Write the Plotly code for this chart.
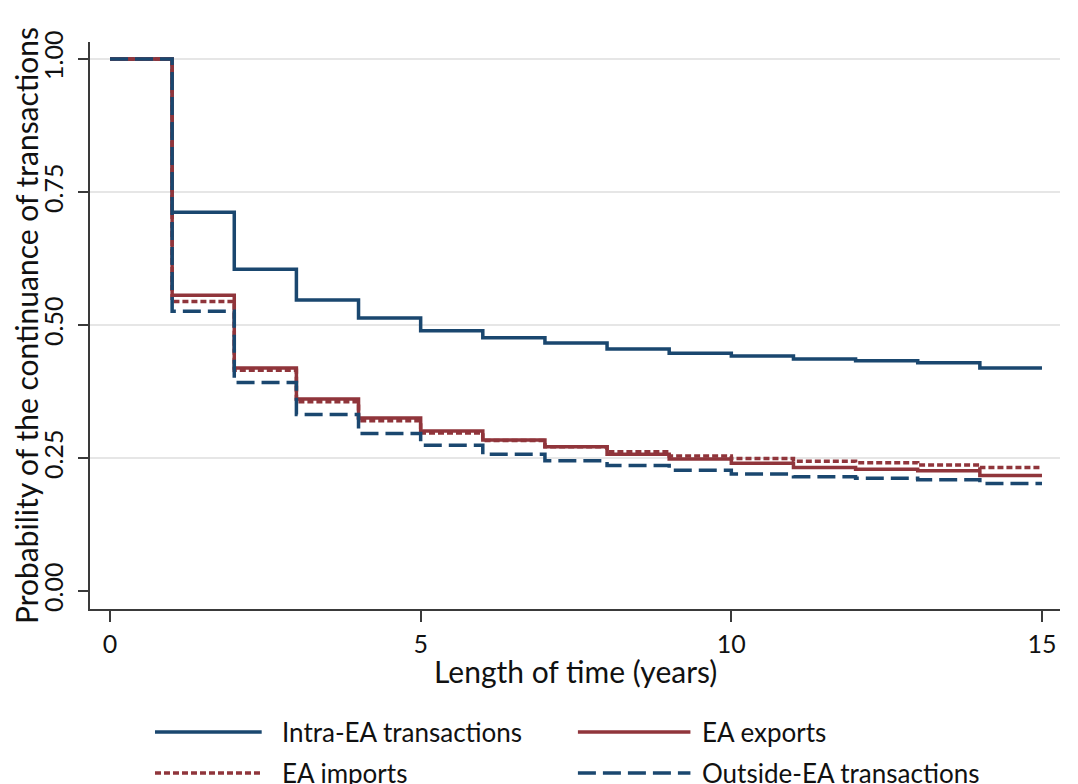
import plotly.graph_objects as go

# ---- data ----
years = list(range(16))
intra_ea = [1.000, 0.712, 0.605, 0.547, 0.513, 0.489, 0.476, 0.466, 0.455, 0.447, 0.442, 0.436, 0.433, 0.429, 0.419, 0.419]
ea_exports = [1.000, 0.556, 0.419, 0.361, 0.325, 0.301, 0.284, 0.271, 0.257, 0.248, 0.240, 0.232, 0.229, 0.226, 0.217, 0.217]
ea_imports = [1.000, 0.544, 0.415, 0.356, 0.320, 0.297, 0.283, 0.271, 0.262, 0.254, 0.249, 0.244, 0.241, 0.237, 0.232, 0.232]
outside_ea = [1.000, 0.526, 0.392, 0.332, 0.296, 0.274, 0.257, 0.245, 0.236, 0.227, 0.220, 0.215, 0.212, 0.209, 0.202, 0.202]

series_names = ["Intra-EA transactions", "EA exports", "EA imports", "Outside-EA transactions"]
x_ticks = [0, 5, 10, 15]
y_ticks = [0.0, 0.25, 0.5, 0.75, 1.0]
y_tick_labels = ["0.00", "0.25", "0.50", "0.75", "1.00"]
grid_values = [0.25, 0.5, 0.75, 1.0]
x_title = "Length of time (years)"
y_title = "Probability of the continuance of transactions"

NAVY = "#1a476f"
MAROON = "#90353b"
FONT = "Lato"
AXIS_COLOR = "#3a3a3a"

styles = [
    dict(color=NAVY, dash="solid"),
    dict(color=MAROON, dash="solid"),
    dict(color=MAROON, dash="6px,3px"),
    dict(color=NAVY, dash="18px,7px"),
]
all_series = [intra_ea, ea_exports, ea_imports, outside_ea]

fig = go.Figure()
for name, ys, st in zip(series_names, all_series, styles):
    fig.add_trace(go.Scatter(
        x=years, y=ys, name=name, mode="lines", line_shape="hv",
        line=dict(color=st["color"], dash=st["dash"], width=3.5),
        showlegend=False,
    ))

shapes = []
for g in grid_values:
    shapes.append(dict(type="line", xref="paper", yref="y", x0=0, x1=1, y0=g, y1=g,
                       line=dict(color="#e6e6e6", width=2), layer="below"))

# manual legend (two columns, two rows) below the plot
leg_rows = [-0.2169, -0.2892]
leg_cols = [(0.067, 0.177, 0.196), (0.503, 0.619, 0.629)]
annotations = []
for i, (name, st) in enumerate(zip(series_names, styles)):
    r, c = divmod(i, 2)
    x0, x1, xt = leg_cols[c]
    y = leg_rows[r]
    shapes.append(dict(type="line", xref="paper", yref="paper", x0=x0, x1=x1, y0=y, y1=y,
                       line=dict(color=st["color"], dash=st["dash"], width=3.5)))
    annotations.append(dict(xref="paper", yref="paper", x=xt, y=y, text=name, showarrow=False,
                            xanchor="left", yanchor="middle",
                            font=dict(family=FONT, size=26, color="#111111")))

# x-axis title (sits tight under the tick labels, as in the reference)
annotations.append(dict(xref="paper", yref="paper", x=0.5, y=-0.1093, text=x_title,
                        showarrow=False, xanchor="center", yanchor="middle",
                        font=dict(family=FONT, size=30, color="#111111")))

fig.update_layout(
    width=1078, height=784,
    margin=dict(l=82, r=26, t=34, b=183),
    paper_bgcolor="white", plot_bgcolor="white",
    font=dict(family=FONT, size=25, color="#111111"),
    shapes=shapes, annotations=annotations,
    showlegend=False,
)
fig.update_xaxes(
    range=[-0.322, 15.29], tickvals=x_ticks, ticks="outside", ticklen=11, tickwidth=1.5,
    tickcolor=AXIS_COLOR, showline=True, linecolor=AXIS_COLOR, linewidth=1.5,
    showgrid=False, zeroline=False, tickfont=dict(size=25), ticklabelstandoff=1,
    automargin=False,
)
fig.update_yaxes(
    range=[-0.0338, 1.032], tickvals=y_ticks, ticktext=y_tick_labels, tickangle=-90,
    ticks="outside", ticklen=10, tickwidth=1.5, tickcolor=AXIS_COLOR,
    showline=True, linecolor=AXIS_COLOR, linewidth=1.5, showgrid=False, zeroline=False,
    tickfont=dict(size=25), ticklabelstandoff=5, automargin=False,
    title=dict(text=y_title, font=dict(size=30), standoff=0),
)

fig.write_html("out.html")
